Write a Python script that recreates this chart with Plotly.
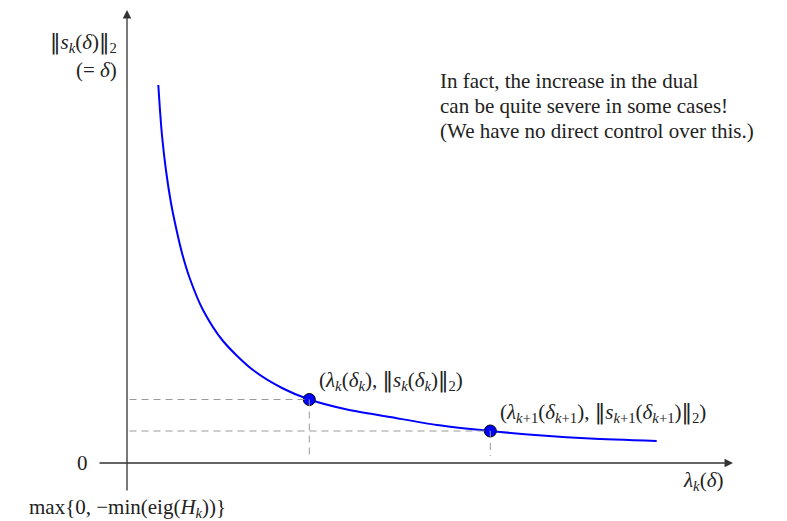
import plotly.graph_objects as go

# curve (diagram units)
curve_x = [0.626, 0.66, 0.70, 0.78, 0.88, 0.96, 1.10, 1.26, 1.52, 1.92, 2.52, 3.12, 3.646,
           4.40, 5.26, 6.20, 7.266, 8.30, 9.26, 10.594]
curve_y = [7.56, 7.05, 6.55, 5.85, 5.20, 4.80, 4.20, 3.68, 3.06, 2.44, 1.86, 1.49, 1.27,
           1.07, 0.92, 0.76, 0.64, 0.55, 0.49, 0.44]

# highlighted iterates
pts_x = [3.646, 7.266]
pts_y = [1.27, 0.64]
N = "<span style=\"font-family:'DejaVu Sans'\">‖</span>"
pts_labels = [f"(<i>λ<sub>k</sub></i>(<i>δ<sub>k</sub></i>), {N}<i>s<sub>k</sub></i>(<i>δ<sub>k</sub></i>){N}<sub>2</sub>)",
              f"(<i>λ</i><sub><i>k</i>+1</sub>(<i>δ</i><sub><i>k</i>+1</sub>), {N}<i>s</i><sub><i>k</i>+1</sub>(<i>δ</i><sub><i>k</i>+1</sub>){N}<sub>2</sub>)"]

note_lines = ["In fact, the increase in the dual",
              "can be quite severe in some cases!",
              "(We have no direct control over this.)"]

FONT = "Liberation Serif"
AX = "#333333"
fig = go.Figure()

# dashed guides
for px, py in zip(pts_x, pts_y):
    fig.add_shape(type="line", x0=0.05, x1=px, y0=py, y1=py,
                  line=dict(color="#999999", width=1, dash="7px,5px"))
    fig.add_shape(type="line", x0=px, x1=px, y0=py, y1=0.14,
                  line=dict(color="#999999", width=1, dash="7px,5px"))

# axes (lines with arrowheads)
fig.add_annotation(x=12.12, y=0, ax=-0.58, ay=0, xref="x", yref="y", axref="x", ayref="y",
                   showarrow=True, arrowhead=2, arrowsize=1.3, arrowwidth=1.3, arrowcolor=AX, text="")
fig.add_annotation(x=0, y=9.06, ax=0, ay=-0.58, xref="x", yref="y", axref="x", ayref="y",
                   showarrow=True, arrowhead=2, arrowsize=1.3, arrowwidth=1.3, arrowcolor=AX, text="")

fig.add_trace(go.Scatter(x=curve_x, y=curve_y, mode="lines",
                         line=dict(color="#0000ff", width=2, shape="spline", smoothing=0.8),
                         hoverinfo="skip"))
fig.add_trace(go.Scatter(x=pts_x, y=pts_y, mode="markers",
                         marker=dict(color="#0000ff", size=12, line=dict(color="black", width=1)),
                         hoverinfo="skip"))

tf = dict(family=FONT, size=21, color="#222222")
for px, py, lab in zip(pts_x, pts_y, pts_labels):
    fig.add_annotation(x=px + 0.16, y=py + 0.37, text=lab, showarrow=False, xanchor="left",
                       yanchor="middle", font=tf)

fig.add_annotation(x=-0.74, y=0, text="0", showarrow=False, xanchor="right", yanchor="middle", font=tf)
fig.add_annotation(x=0, y=-0.9, text="max{0, −min(eig(<i>H<sub>k</sub></i>))}", showarrow=False,
                   xanchor="center", yanchor="middle", font=tf)
fig.add_annotation(x=11.52, y=-0.36, text="<i>λ<sub>k</sub></i>(<i>δ</i>)", showarrow=False,
                   xanchor="center", yanchor="middle", font=tf)
fig.add_annotation(x=-0.16, y=8.4, text=f"{N}<i>s<sub>k</sub></i>(<i>δ</i>){N}<sub>2</sub>", showarrow=False,
                   xanchor="right", yanchor="middle", font=tf)
fig.add_annotation(x=-0.16, y=7.86, text="(= <i>δ</i>)", showarrow=False,
                   xanchor="right", yanchor="middle", font=tf)
for i, line in enumerate(note_lines):
    fig.add_annotation(x=6.22, y=7.64 - 0.5 * i, text=line, showarrow=False, xanchor="left",
                       yanchor="middle", font=tf)

fig.update_layout(width=787, height=521, margin=dict(l=0, r=0, t=0, b=0),
                  paper_bgcolor="white", plot_bgcolor="white", showlegend=False,
                  xaxis=dict(range=[-2.54, 13.2], visible=False, fixedrange=True),
                  yaxis=dict(range=[-1.16, 9.26], visible=False, fixedrange=True))
fig.write_html("out.html", config={"displayModeBar": False},
               post_script="document.body.style.margin='0';")
